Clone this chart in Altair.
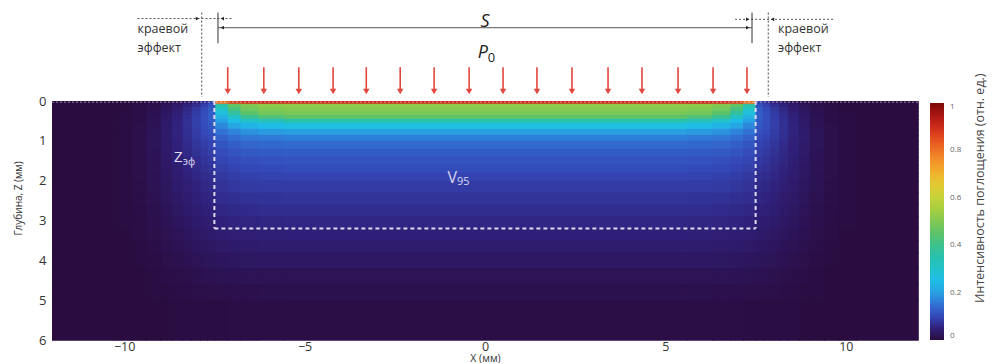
import altair as alt
import pandas as pd

# ---------------- data ----------------
# lateral cell edges |x| (mm) and depth cell edges z (mm)
x_edges = [0, 5.6, 6.3, 6.8, 7.15, 7.5, 7.7, 7.9, 8.15, 8.4, 8.7, 9.0, 9.4, 9.8, 10.3, 12.0]
z_edges = [0, 0.07, 0.15, 0.25, 0.35, 0.45, 0.55, 0.7, 0.85, 1.0, 1.2, 1.4, 1.6, 1.8, 2.0,
           2.3, 2.6, 2.9, 3.2, 3.5, 3.8, 4.2, 4.6, 5.0, 6.0]

# absorption intensity (rel. units); one row per depth cell, one value per |x| column
depth_rows = [
    [0.90, 0.90, 0.89, 0.87, 0.80, 0.09, 0.07, 0.05, 0.035, 0.022, 0.013, 0.006, 0.002, 0.0, 0.0],
    [0.52, 0.52, 0.50, 0.46, 0.36, 0.11, 0.09, 0.068, 0.05, 0.034, 0.021, 0.01, 0.004, 0.001, 0.0],
    [0.51, 0.50, 0.48, 0.42, 0.31, 0.12, 0.10, 0.078, 0.059, 0.041, 0.026, 0.013, 0.005, 0.001, 0.0],
    [0.49, 0.48, 0.45, 0.37, 0.27, 0.125, 0.106, 0.084, 0.064, 0.046, 0.03, 0.016, 0.006, 0.002, 0.0],
    [0.45, 0.43, 0.39, 0.31, 0.23, 0.125, 0.108, 0.088, 0.068, 0.05, 0.033, 0.018, 0.007, 0.002, 0.0],
    [0.35, 0.33, 0.30, 0.25, 0.20, 0.123, 0.108, 0.089, 0.07, 0.052, 0.035, 0.019, 0.008, 0.002, 0.0],
    [0.26, 0.25, 0.235, 0.21, 0.175, 0.118, 0.105, 0.088, 0.07, 0.053, 0.036, 0.02, 0.009, 0.003, 0.0],
    [0.20, 0.195, 0.185, 0.17, 0.15, 0.11, 0.10, 0.085, 0.069, 0.053, 0.037, 0.021, 0.01, 0.003, 0.0],
    [0.165, 0.16, 0.155, 0.145, 0.13, 0.102, 0.094, 0.081, 0.067, 0.052, 0.037, 0.022, 0.01, 0.003, 0.0],
    [0.14, 0.138, 0.134, 0.126, 0.115, 0.094, 0.087, 0.076, 0.063, 0.05, 0.036, 0.022, 0.01, 0.003, 0.0],
    [0.125, 0.123, 0.12, 0.113, 0.104, 0.087, 0.081, 0.071, 0.06, 0.048, 0.035, 0.021, 0.01, 0.003, 0.0],
    [0.113, 0.111, 0.108, 0.102, 0.095, 0.08, 0.075, 0.066, 0.056, 0.045, 0.033, 0.02, 0.01, 0.003, 0.0],
    [0.103, 0.101, 0.099, 0.094, 0.087, 0.074, 0.07, 0.062, 0.053, 0.043, 0.031, 0.019, 0.009, 0.003, 0.0],
    [0.094, 0.093, 0.09, 0.086, 0.08, 0.068, 0.064, 0.057, 0.049, 0.04, 0.029, 0.018, 0.009, 0.003, 0.0],
    [0.085, 0.084, 0.082, 0.078, 0.073, 0.062, 0.059, 0.052, 0.045, 0.037, 0.027, 0.017, 0.008, 0.003, 0.0],
    [0.075, 0.074, 0.072, 0.069, 0.065, 0.056, 0.053, 0.047, 0.04, 0.033, 0.024, 0.015, 0.007, 0.002, 0.0],
    [0.066, 0.065, 0.063, 0.061, 0.057, 0.049, 0.047, 0.042, 0.036, 0.029, 0.021, 0.013, 0.006, 0.002, 0.0],
    [0.057, 0.056, 0.055, 0.053, 0.05, 0.043, 0.041, 0.036, 0.031, 0.025, 0.018, 0.011, 0.005, 0.002, 0.0],
    [0.048, 0.047, 0.046, 0.044, 0.042, 0.036, 0.034, 0.03, 0.026, 0.021, 0.015, 0.009, 0.004, 0.001, 0.0],
    [0.039, 0.039, 0.038, 0.036, 0.034, 0.03, 0.028, 0.025, 0.021, 0.017, 0.012, 0.007, 0.003, 0.001, 0.0],
    [0.03, 0.03, 0.029, 0.028, 0.026, 0.023, 0.022, 0.019, 0.016, 0.013, 0.009, 0.005, 0.002, 0.001, 0.0],
    [0.02, 0.02, 0.019, 0.018, 0.017, 0.015, 0.014, 0.012, 0.01, 0.008, 0.006, 0.003, 0.001, 0.0, 0.0],
    [0.012, 0.012, 0.011, 0.011, 0.01, 0.009, 0.008, 0.007, 0.006, 0.005, 0.003, 0.002, 0.001, 0.0, 0.0],
    [0.004, 0.004, 0.004, 0.004, 0.003, 0.003, 0.003, 0.003, 0.002, 0.002, 0.001, 0.001, 0.0, 0.0, 0.0],
]

# colour bar, read at steps of 0.05 from 0 to 1
cmap_colors = ["#2a0c40", "#30207a", "#3448b8", "#3272d4", "#28a0e2", "#1fbde6", "#22c2cc",
               "#28c1ae", "#3ec18c", "#5cc36a", "#80c852", "#a5ce42", "#c4d23a", "#e0cb32",
               "#f0b52d", "#f3962a", "#ef7326", "#e44e20", "#cc2a1a", "#a81612", "#7d0a0a"]

# annotations
arrow_x = [-7.13, -6.13, -5.16, -4.21, -3.29, -2.35, -1.41, -0.44, 0.50, 1.44, 2.41, 3.41, 4.35, 5.35, 6.32, 7.26]
beam_half = 7.5
v95_depth = 3.2
edge_line_x = 7.85
s_end_x = 7.4

x_ticks = [-10, -5, 0, 5, 10]
y_ticks = [0, 1, 2, 3, 4, 5, 6]
legend_ticks = [0, 0.2, 0.4, 0.6, 0.8, 1]

# ---------------- tables ----------------
rows = []
for j, vals in enumerate(depth_rows):
    z0, z1 = z_edges[j], z_edges[j + 1]
    for i, v in enumerate(vals):
        a, b = x_edges[i], x_edges[i + 1]
        if a == 0:
            rows.append(dict(x0=-b, x1=b, z0=z0, z1=z1, v=v))
        else:
            rows.append(dict(x0=a, x1=b, z0=z0, z1=z1, v=v))
            rows.append(dict(x0=-b, x1=-a, z0=z0, z1=z1, v=v))
heat_df = pd.DataFrame(rows)

FONT = "Open Sans"

xs = alt.Scale(domain=[-12, 12], nice=False, zero=False)
ys = alt.Scale(domain=[0, 6], nice=False, zero=False, reverse=True)
cs = alt.Scale(type="linear", domain=[0, 1], range=cmap_colors, interpolate="rgb")

X_AXIS = alt.Axis(values=x_ticks, title="X (мм)", domain=False, ticks=False, grid=False,
                  labelFontSize=12.5, labelColor="#333", labelFont=FONT, labelPadding=0,
                  titleFontSize=10.5, titleFont=FONT, titleFontWeight="normal", titleColor="#333",
                  titleY=23, titleBaseline="bottom")
Y_AXIS = alt.Axis(values=y_ticks, title="Глубина, Z (мм)", domain=False, ticks=False, grid=False,
                  labelFontSize=13, labelColor="#333", labelFont=FONT, labelPadding=6,
                  titleFontSize=10, titleFont=FONT, titleFontWeight="normal", titleColor="#333",
                  titleX=-29, titleY=97)


def xe(field):
    return alt.X(field, scale=xs, axis=X_AXIS)


def ye(field):
    return alt.Y(field, scale=ys, axis=Y_AXIS)


heat = alt.Chart(heat_df).mark_rect(x2Offset=0.8, y2Offset=0.8).encode(
    x=xe("x0:Q"), x2="x1:Q",
    y=ye("z0:Q"), y2="z1:Q",
    color=alt.Color("v:Q", scale=cs, legend=alt.Legend(
        type="gradient", orient="none", legendX=878, legendY=2, direction="vertical", title=None,
        gradientLength=237, gradientThickness=14, gradientStrokeWidth=0,
        values=legend_ticks, format="~g", labelFontSize=8, labelColor="#666", labelFont=FONT,
        labelOffset=6)),
)

# thin light line at the surface
surf_df = pd.DataFrame(dict(x0=[-12.0], x1=[12.0], z=[0.03]))
surf = alt.Chart(surf_df).mark_rule(color="#e6d8f0", strokeWidth=1, strokeDash=[2, 2], opacity=0.6).encode(
    x=xe("x0:Q"), x2="x1:Q", y=ye("z:Q"))

# dashed V95 box
box_v_df = pd.DataFrame(dict(x=[-beam_half, beam_half], z0=[0.0, 0.0], z1=[v95_depth, v95_depth]))
box_h_df = pd.DataFrame(dict(x0=[-beam_half], x1=[beam_half], z=[v95_depth]))
box_v = alt.Chart(box_v_df).mark_rule(color="#dcdcf2", strokeWidth=2, strokeDash=[4, 3]).encode(
    x=xe("x:Q"), y=ye("z0:Q"), y2="z1:Q")
box_h = alt.Chart(box_h_df).mark_rule(color="#dcdcf2", strokeWidth=2, strokeDash=[4, 3]).encode(
    x=xe("x0:Q"), x2="x1:Q", y=ye("z:Q"))

# red arrows
arr_df = pd.DataFrame(dict(x=arrow_x, ztop=[-0.85] * len(arrow_x), ztip=[-0.3] * len(arrow_x),
                           zhead=[-0.24] * len(arrow_x)))
arr_line = alt.Chart(arr_df).mark_rule(color="#e2473e", strokeWidth=1.6).encode(
    x=xe("x:Q"), y=ye("ztop:Q"), y2="ztip:Q")
arr_head = alt.Chart(arr_df).mark_point(shape="triangle-down", filled=True, color="#e2473e", size=42, opacity=1).encode(
    x=xe("x:Q"), y=ye("zhead:Q"))

# dimension lines
dot_h_df = pd.DataFrame(dict(x0=[-9.63, 6.93], x1=[-7.02, 9.65], z=[-2.07, -2.05]))
dot_h = alt.Chart(dot_h_df).mark_rule(color="#555", strokeWidth=1, strokeDash=[2, 2]).encode(
    x=xe("x0:Q"), x2="x1:Q", y=ye("z:Q"))
dot_v_df = pd.DataFrame(dict(x=[-edge_line_x, edge_line_x], z0=[-2.22, -2.22], z1=[-0.1, -0.1]))
dot_v = alt.Chart(dot_v_df).mark_rule(color="#444", strokeWidth=1, strokeDash=[2, 2]).encode(
    x=xe("x:Q"), y=ye("z0:Q"), y2="z1:Q")
ext_df = pd.DataFrame(dict(x=[-s_end_x, s_end_x], z0=[-2.22, -2.22], z1=[-1.45, -1.45]))
ext = alt.Chart(ext_df).mark_rule(color="#333", strokeWidth=1).encode(
    x=xe("x:Q"), y=ye("z0:Q"), y2="z1:Q")
s_df = pd.DataFrame(dict(x0=[-s_end_x], x1=[s_end_x], z=[-1.84]))
s_line = alt.Chart(s_df).mark_rule(color="#555", strokeWidth=1).encode(
    x=xe("x0:Q"), x2="x1:Q", y=ye("z:Q"))

tri_l_df = pd.DataFrame(dict(x=[-7.28, 7.97, -7.28], z=[-2.07, -2.05, -1.84]))
tri_r_df = pd.DataFrame(dict(x=[-7.97, 7.28, 7.28], z=[-2.07, -2.05, -1.84]))
tri_l = alt.Chart(tri_l_df).mark_point(shape="triangle-left", filled=True, color="#222", size=14, opacity=1).encode(
    x=xe("x:Q"), y=ye("z:Q"))
tri_r = alt.Chart(tri_r_df).mark_point(shape="triangle-right", filled=True, color="#222", size=14, opacity=1).encode(
    x=xe("x:Q"), y=ye("z:Q"))


def text_layer(df, size, color, italic=False, align="center", angle=0):
    kw = dict(fontSize=size, color=color, font=FONT, align=align, baseline="middle")
    if italic:
        kw["fontStyle"] = "italic"
    if angle:
        kw["angle"] = angle
    return alt.Chart(df).mark_text(**kw).encode(x=xe("x:Q"), y=ye("z:Q"), text="t:N")


edge_txt = text_layer(pd.DataFrame(dict(x=[-9.63, -9.63, 8.12, 8.12], z=[-1.81, -1.34, -1.81, -1.34],
                                        t=["краевой", "эффект", "краевой", "эффект"])), 12.5, "#333", align="left")
s_txt = text_layer(pd.DataFrame(dict(x=[0.0], z=[-1.98], t=["S"])), 18, "#222", italic=True)
p_txt = text_layer(pd.DataFrame(dict(x=[-0.06], z=[-1.2], t=["P"])), 18, "#222", italic=True)
p0_txt = text_layer(pd.DataFrame(dict(x=[0.18], z=[-1.08], t=["0"])), 13, "#222")
z_txt = text_layer(pd.DataFrame(dict(x=[-8.5], z=[1.41], t=["Z"])), 15, "#e2def2")
zs_txt = text_layer(pd.DataFrame(dict(x=[-8.2], z=[1.53], t=["эф"])), 10, "#e2def2")
v_txt = text_layer(pd.DataFrame(dict(x=[-0.91], z=[1.94], t=["V"])), 16, "#dad6ee")
vs_txt = text_layer(pd.DataFrame(dict(x=[-0.6], z=[2.03], t=["95"])), 11, "#dad6ee")
cb_title = text_layer(pd.DataFrame(dict(x=[13.72], z=[2.19], t=["Интенсивность поглощения (отн. ед.)"])),
                      12.5, "#444", angle=270)

chart = alt.layer(
    heat, surf, box_v, box_h, arr_line, arr_head, dot_h, dot_v, ext, s_line, tri_l, tri_r,
    edge_txt, s_txt, p_txt, p0_txt, z_txt, zs_txt, v_txt, vs_txt, cb_title
).properties(
    width=866, height=239,
    padding={"left": 44, "top": 93, "right": 74, "bottom": 23},
    autosize=alt.AutoSizeParams(type="none"),
    background="white",
).configure_view(stroke=None)

chart.save("out.html", embed_options={"renderer": "svg", "actions": False})
